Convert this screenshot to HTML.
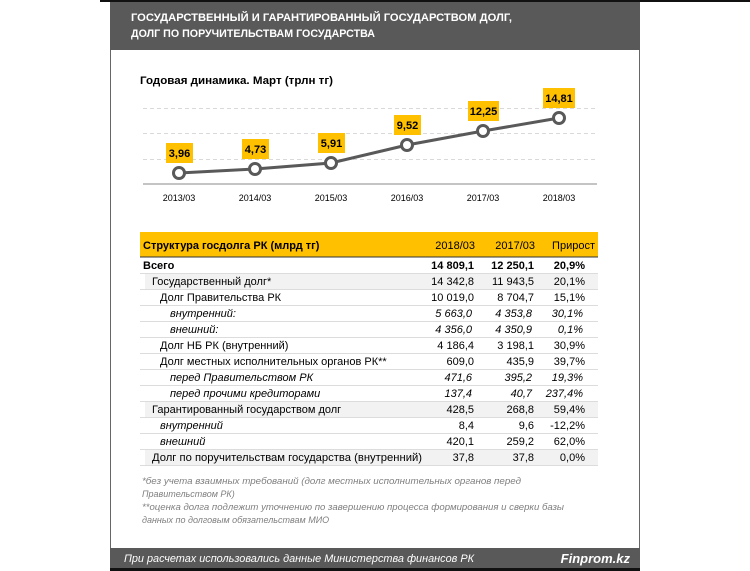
<!DOCTYPE html>
<html><head><meta charset="utf-8"><style>
body{margin:0;background:#fff}
svg{display:block}
text{font-family:"Liberation Sans",sans-serif}
</style></head><body>
<svg width="750" height="571" viewBox="0 0 750 571" xmlns="http://www.w3.org/2000/svg">
<rect x="0" y="0" width="750" height="571" fill="#fff"/>
<rect x="100" y="0" width="650" height="2" fill="#111"/>
<rect x="110" y="2" width="530" height="48" fill="#595959"/>
<line x1="110.5" y1="50" x2="110.5" y2="548" stroke="#666" stroke-width="1"/>
<line x1="639.5" y1="50" x2="639.5" y2="548" stroke="#666" stroke-width="1"/>
<text x="131" y="21" fill="#fff" font-size="11" font-weight="bold" textLength="381" lengthAdjust="spacingAndGlyphs">ГОСУДАРСТВЕННЫЙ  И ГАРАНТИРОВАННЫЙ  ГОСУДАРСТВОМ ДОЛГ,</text>
<text x="131" y="37" fill="#fff" font-size="11" font-weight="bold" textLength="244" lengthAdjust="spacingAndGlyphs">ДОЛГ ПО ПОРУЧИТЕЛЬСТВАМ  ГОСУДАРСТВА</text>
<text x="140" y="84" fill="#000" font-size="11" font-weight="bold" textLength="193" lengthAdjust="spacingAndGlyphs">Годовая  динамика.  Март (трлн тг)</text>
<g stroke="#d9d9d9" stroke-dasharray="4,3" stroke-width="1">
<line x1="143" y1="108.5" x2="597" y2="108.5"/>
<line x1="143" y1="133.5" x2="597" y2="133.5"/>
<line x1="143" y1="159.5" x2="597" y2="159.5"/>
</g>
<line x1="143" y1="184" x2="597" y2="184" stroke="#888" stroke-width="1"/>
<polyline points="179,173 255,169 331,163 407,145 483,131 559,118" fill="none" stroke="#595959" stroke-width="3"/>
<g fill="#fff" stroke="#595959" stroke-width="3">
<circle cx="179" cy="173" r="5.5"/><circle cx="255" cy="169" r="5.5"/><circle cx="331" cy="163" r="5.5"/><circle cx="407" cy="145" r="5.5"/><circle cx="483" cy="131" r="5.5"/><circle cx="559" cy="118" r="5.5"/>
</g>
<g fill="#ffc000">
<rect x="166" y="143" width="27" height="20"/>
<rect x="242" y="139" width="27" height="20"/>
<rect x="318" y="133" width="27" height="20"/>
<rect x="394" y="115" width="27" height="20"/>
<rect x="468" y="101" width="31" height="20"/>
<rect x="543" y="88" width="32" height="20"/>
</g>
<g font-size="11" font-weight="bold" fill="#000" text-anchor="middle">
<text x="179.5" y="157">3,96</text><text x="255.5" y="153">4,73</text><text x="331.5" y="147">5,91</text><text x="407.5" y="129">9,52</text><text x="483.5" y="115">12,25</text><text x="559" y="102">14,81</text>
</g>
<g font-size="9" fill="#000" text-anchor="middle">
<text x="179" y="201">2013/03</text><text x="255" y="201">2014/03</text><text x="331" y="201">2015/03</text><text x="407" y="201">2016/03</text><text x="483" y="201">2017/03</text><text x="559" y="201">2018/03</text>
</g>
<!-- table -->
<rect x="140" y="232" width="458" height="25" fill="#ffc000"/>
<line x1="140" y1="257" x2="598" y2="257" stroke="#333" stroke-width="1"/>
<g font-size="11" fill="#000">
<text x="143" y="249" font-weight="bold">Структура госдолга РК (млрд тг)</text>
<text x="475" y="249" text-anchor="end">2018/03</text>
<text x="535" y="249" text-anchor="end">2017/03</text>
<text x="595" y="249" text-anchor="end">Прирост</text>
</g>
<g fill="#f2f2f2">
<rect x="145" y="273" width="453" height="16"/>
<rect x="145" y="401" width="453" height="16"/>
<rect x="145" y="449" width="453" height="16"/>
</g>
<g stroke="#dcdcdc" stroke-width="1">
<line x1="140" y1="273.5" x2="598" y2="273.5"/><line x1="140" y1="289.5" x2="598" y2="289.5"/><line x1="140" y1="305.5" x2="598" y2="305.5"/><line x1="140" y1="321.5" x2="598" y2="321.5"/><line x1="140" y1="337.5" x2="598" y2="337.5"/><line x1="140" y1="353.5" x2="598" y2="353.5"/><line x1="140" y1="369.5" x2="598" y2="369.5"/><line x1="140" y1="385.5" x2="598" y2="385.5"/><line x1="140" y1="401.5" x2="598" y2="401.5"/><line x1="140" y1="417.5" x2="598" y2="417.5"/><line x1="140" y1="433.5" x2="598" y2="433.5"/><line x1="140" y1="449.5" x2="598" y2="449.5"/><line x1="140" y1="465.5" x2="598" y2="465.5"/>
</g>
<g font-size="11" fill="#000">
<g font-weight="bold"><text x="143" y="269">Всего</text><text x="474" y="269" text-anchor="end">14 809,1</text><text x="534" y="269" text-anchor="end">12 250,1</text><text x="585" y="269" text-anchor="end">20,9%</text></g>
<text x="152" y="285">Государственный долг*</text><text x="474" y="285" text-anchor="end">14 342,8</text><text x="534" y="285" text-anchor="end">11 943,5</text><text x="585" y="285" text-anchor="end">20,1%</text>
<text x="160" y="301">Долг Правительства РК</text><text x="474" y="301" text-anchor="end">10 019,0</text><text x="534" y="301" text-anchor="end">8 704,7</text><text x="585" y="301" text-anchor="end">15,1%</text>
<g font-style="italic"><text x="170" y="317">внутренний:</text><text x="472" y="317" text-anchor="end">5 663,0</text><text x="532" y="317" text-anchor="end">4 353,8</text><text x="583" y="317" text-anchor="end">30,1%</text>
<text x="170" y="333">внешний:</text><text x="472" y="333" text-anchor="end">4 356,0</text><text x="532" y="333" text-anchor="end">4 350,9</text><text x="583" y="333" text-anchor="end">0,1%</text></g>
<text x="160" y="349">Долг НБ РК (внутренний)</text><text x="474" y="349" text-anchor="end">4 186,4</text><text x="534" y="349" text-anchor="end">3 198,1</text><text x="585" y="349" text-anchor="end">30,9%</text>
<text x="160" y="365">Долг местных исполнительных органов РК**</text><text x="474" y="365" text-anchor="end">609,0</text><text x="534" y="365" text-anchor="end">435,9</text><text x="585" y="365" text-anchor="end">39,7%</text>
<g font-style="italic"><text x="170" y="381">перед Правительством РК</text><text x="472" y="381" text-anchor="end">471,6</text><text x="532" y="381" text-anchor="end">395,2</text><text x="583" y="381" text-anchor="end">19,3%</text>
<text x="170" y="397">перед прочими кредиторами</text><text x="472" y="397" text-anchor="end">137,4</text><text x="532" y="397" text-anchor="end">40,7</text><text x="583" y="397" text-anchor="end">237,4%</text></g>
<text x="152" y="413">Гарантированный государством долг</text><text x="474" y="413" text-anchor="end">428,5</text><text x="534" y="413" text-anchor="end">268,8</text><text x="585" y="413" text-anchor="end">59,4%</text>
<text x="160" y="429" font-style="italic">внутренний</text><text x="474" y="429" text-anchor="end">8,4</text><text x="534" y="429" text-anchor="end">9,6</text><text x="585" y="429" text-anchor="end">-12,2%</text>
<text x="160" y="445" font-style="italic">внешний</text><text x="474" y="445" text-anchor="end">420,1</text><text x="534" y="445" text-anchor="end">259,2</text><text x="585" y="445" text-anchor="end">62,0%</text>
<text x="152" y="461" textLength="270" lengthAdjust="spacingAndGlyphs">Долг по поручительствам государства (внутренний)</text><text x="474" y="461" text-anchor="end">37,8</text><text x="534" y="461" text-anchor="end">37,8</text><text x="585" y="461" text-anchor="end">0,0%</text>
</g>
<g font-size="9" fill="#7f7f7f" font-style="italic">
<text x="142" y="484" textLength="379" lengthAdjust="spacingAndGlyphs">*без учета взаимных требований (долг местных исполнительных органов перед</text>
<text x="142" y="497">Правительством РК)</text>
<text x="142" y="510" textLength="422" lengthAdjust="spacingAndGlyphs">**оценка долга подлежит уточнению по завершению процесса формирования и сверки базы</text>
<text x="142" y="523">данных по долговым обязательствам МИО</text>
</g>
<rect x="110" y="548" width="530" height="20" fill="#595959"/>
<rect x="110" y="568" width="530" height="3" fill="#111"/>
<text x="124" y="562" fill="#fff" font-size="11" font-style="italic" textLength="350" lengthAdjust="spacingAndGlyphs">При расчетах использовались данные  Министерства финансов  РК</text>
<text x="630" y="563" fill="#fff" font-size="13" font-weight="bold" font-style="italic" text-anchor="end">Finprom.kz</text>
</svg>
</body></html>
